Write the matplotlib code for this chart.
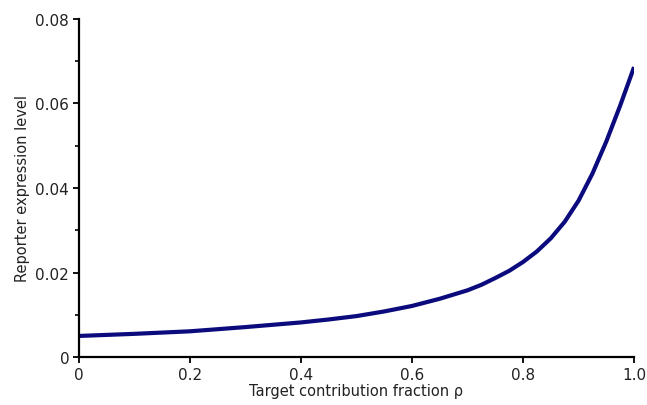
import matplotlib
matplotlib.use("Agg")
import matplotlib.pyplot as plt
from matplotlib.ticker import MultipleLocator

rho = [0.0, 0.1, 0.2, 0.3, 0.4, 0.45, 0.5, 0.55, 0.6, 0.65, 0.7, 0.725, 0.75, 0.775, 0.8,
       0.825, 0.85, 0.875, 0.9, 0.925, 0.95, 0.975, 1.0]
level = [0.0050, 0.0055, 0.0061, 0.0071, 0.0082, 0.0089, 0.0097, 0.0108, 0.0121, 0.0138, 0.0158, 0.0171,
         0.0187, 0.0204, 0.0225, 0.0250, 0.0281, 0.0320, 0.0370, 0.0434, 0.0510, 0.0595, 0.0686]

xticks = [0, 0.2, 0.4, 0.6, 0.8, 1.0]
xticklabels = ["0", "0.2", "0.4", "0.6", "0.8", "1.0"]
yticks = [0, 0.02, 0.04, 0.06, 0.08]
yticklabels = ["0", "0.02", "0.04", "0.06", "0.08"]

fig = plt.figure(figsize=(6.47, 4.06), dpi=100)
ax = fig.add_axes([0.122, 0.118, 0.858, 0.833])
ax.plot(rho, level, color="#0b0b7e", lw=3.0, solid_capstyle="butt", solid_joinstyle="round")
ax.set_xlim(0, 1.0)
ax.set_ylim(0, 0.08)
ax.set_xticks(xticks)
ax.set_xticklabels(xticklabels)
ax.set_yticks(yticks)
ax.set_yticklabels(yticklabels)
ax.yaxis.set_minor_locator(MultipleLocator(0.01))
for s in ["top", "right"]:
    ax.spines[s].set_visible(False)
for s in ["left", "bottom"]:
    ax.spines[s].set_linewidth(1.6)
ax.tick_params(axis="both", which="major", direction="out", length=4, width=1.3, labelsize=11, pad=3,
               labelcolor="#222222")
ax.tick_params(axis="y", which="minor", direction="out", length=3, width=1.2)
ax.set_xlabel("Target contribution fraction ρ", fontsize=10.5, labelpad=1, color="#222222")
ax.set_ylabel("Reporter expression level", fontsize=10.5, labelpad=4, color="#222222")
fig.savefig("out.png", dpi=100)
